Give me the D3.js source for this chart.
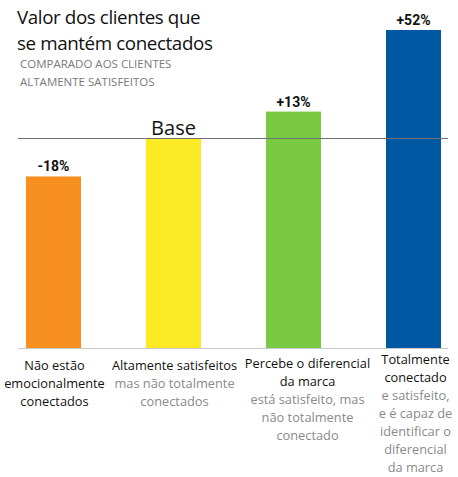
<!DOCTYPE html>
<html>
<head>
<meta charset="utf-8">
<script src="https://cdn.jsdelivr.net/npm/d3@7"></script>
<style>
  html, body { margin: 0; padding: 0; background: #fff; }
  svg { display: block; }
</style>
</head>
<body>
<svg id="chart" width="458" height="477"></svg>
<script>
const categories = ["nao", "altamente", "percebe", "totalmente"];
const values = [82, 100, 113, 152];
const valueLabels = ["-18%", "", "+13%", "+52%"];
const baseValue = 100;
const baseLabel = "Base";
const colors = ["#F7901E", "#FCEA24", "#7AC943", "#0057A2"];
const mainLines = [
  ["Não estão", "emocionalmente", "conectados"],
  ["Altamente satisfeitos"],
  ["Percebe o diferencial", "da marca"],
  ["Totalmente", "conectado"]
];
const subLines = [
  [],
  ["mas não totalmente", "conectados"],
  ["está satisfeito, mas", "não totalmente", "conectado"],
  ["e satisfeito,", "e é capaz de", "identificar o", "diferencial", "da marca"]
];
const titleLines = ["Valor dos clientes que", "se mantém conectados"];
const subtitleLines = ["COMPARADO AOS CLIENTES", "ALTAMENTE SATISFEITOS"];

const svg = d3.select("#chart");
const font = "'Open Sans', 'Noto Sans', sans-serif";

const x = d3.scalePoint().domain(categories).range([53.5, 413.5]);
const y = d3.scaleLinear().domain([0, 152]).range([348, 30]);
const barW = 55;
// horizontal shift of each category label relative to its bar (layout)
const labelShift = [1, 1, 14, 2];
const labelStartY = [370, 370, 368, 364];

// title
svg.append("g").selectAll("text").data(titleLines).join("text")
  .attr("x", 17).attr("y", (d, i) => 24 + i * 25.8)
  .attr("font-family", font).attr("font-size", 18.8)
  .attr("letter-spacing", -0.4).attr("fill", "#111")
  .text(d => d);
svg.append("g").selectAll("text").data(subtitleLines).join("text")
  .attr("x", 20).attr("y", (d, i) => 68 + i * 17.5)
  .attr("font-family", font).attr("font-size", 11.5).attr("fill", "#7a7a7a")
  .text(d => d);

// bars
svg.append("g").selectAll("rect").data(values).join("rect")
  .attr("x", (d, i) => x(categories[i]) - barW / 2)
  .attr("width", barW)
  .attr("y", d => y(d))
  .attr("height", d => y(0) - y(d))
  .attr("fill", (d, i) => colors[i]);

// zero line
svg.append("line")
  .attr("x1", 18).attr("x2", 448)
  .attr("y1", y(0) + 0.5).attr("y2", y(0) + 0.5)
  .attr("stroke", "#c8c8c8").attr("stroke-width", 1);

// base line
svg.append("line")
  .attr("x1", 18).attr("x2", 448)
  .attr("y1", Math.round(y(baseValue)) - 0.5).attr("y2", Math.round(y(baseValue)) - 0.5)
  .attr("stroke", "#707070").attr("stroke-width", 1);
svg.append("text")
  .attr("x", x(categories[1])).attr("y", y(baseValue) - 4)
  .attr("text-anchor", "middle")
  .attr("font-family", font).attr("font-size", 20).attr("fill", "#111")
  .text(baseLabel);

// value labels
svg.append("g").selectAll("text").data(values).join("text")
  .attr("x", (d, i) => x(categories[i]))
  .attr("y", d => y(d) - 5)
  .attr("text-anchor", "middle")
  .attr("font-family", "'Roboto', 'Liberation Sans', sans-serif")
  .attr("font-weight", "bold").attr("font-size", 14).attr("fill", "#111")
  .text((d, i) => valueLabels[i]);

// category labels
categories.forEach((c, i) => {
  const g = svg.append("g");
  const lines = mainLines[i].map(t => ({t, sub: false})).concat(subLines[i].map(t => ({t, sub: true})));
  g.selectAll("text").data(lines).join("text")
    .attr("x", x(c) + labelShift[i]).attr("y", (d, j) => labelStartY[i] + j * 18)
    .attr("text-anchor", "middle")
    .attr("font-family", font).attr("font-size", 12.8)
    .attr("fill", d => d.sub ? "#8a8a8a" : "#111")
    .text(d => d.t);
});
</script>
</body>
</html>
